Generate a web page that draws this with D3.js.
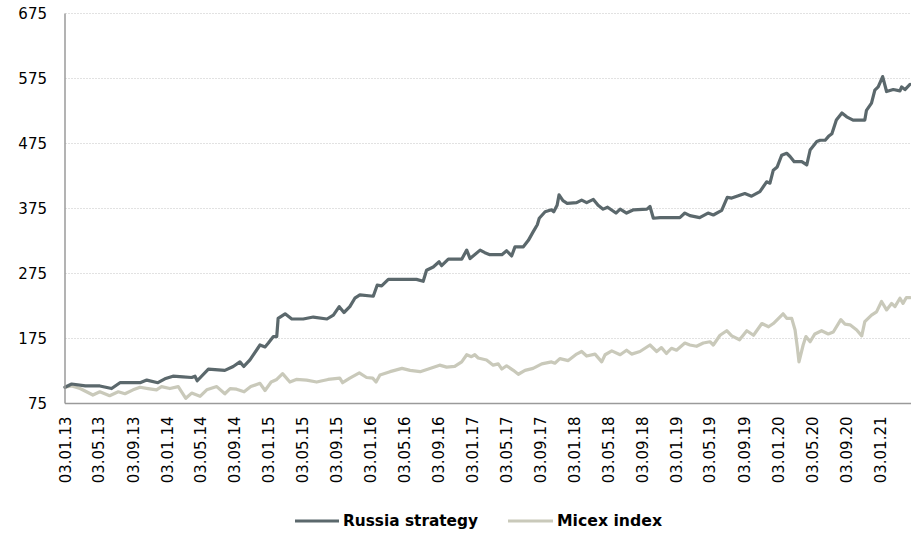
<!DOCTYPE html>
<html>
<head>
<meta charset="utf-8">
<script src="https://cdn.jsdelivr.net/npm/d3@7"></script>
<style>
  html, body { margin: 0; padding: 0; background: #fff; }
  svg { display: block; }
  text { font-family: "DejaVu Sans", Verdana, sans-serif; fill: #000; }
</style>
</head>
<body>
<svg id="chart" width="911" height="535"></svg>
<script>
// ---- data ----
const xTickLabels = ["03.01.13","03.05.13","03.09.13","03.01.14","03.05.14","03.09.14","03.01.15","03.05.15","03.09.15",
  "03.01.16","03.05.16","03.09.16","03.01.17","03.05.17","03.09.17","03.01.18","03.05.18","03.09.18",
  "03.01.19","03.05.19","03.09.19","03.01.20","03.05.20","03.09.20","03.01.21"];
const yTicks = [75, 175, 275, 375, 475, 575, 675];
const seriesNames = ["Russia strategy", "Micex index"];

const strategyDates = ["2013-01-03","2013-01-27","2013-03-17","2013-05-08","2013-06-19","2013-07-19","2013-09-29","2013-10-23",
  "2013-12-02","2013-12-27","2014-01-25","2014-03-02","2014-04-02","2014-04-14","2014-04-22","2014-06-01","2014-07-30",
  "2014-08-29","2014-09-22","2014-10-06","2014-10-28","2014-12-03","2014-12-21","2015-01-02","2015-01-20","2015-02-01",
  "2015-02-06","2015-03-03","2015-03-27","2015-05-07","2015-06-12","2015-07-31","2015-08-23","2015-09-13","2015-09-30",
  "2015-10-21","2015-11-08","2015-11-26","2016-01-13","2016-01-27","2016-02-12","2016-03-07","2016-06-16","2016-07-10",
  "2016-07-22","2016-08-15","2016-09-05","2016-09-14","2016-10-08","2016-11-25","2016-12-13","2016-12-25","2017-01-30",
  "2017-02-16","2017-03-06","2017-04-18","2017-05-05","2017-05-23","2017-06-04","2017-07-04","2017-07-22","2017-08-08",
  "2017-08-23","2017-08-30","2017-09-20","2017-10-13","2017-10-21","2017-11-02","2017-11-09","2017-11-23","2017-12-08",
  "2018-01-11","2018-01-29","2018-02-16","2018-03-12","2018-03-29","2018-04-16","2018-05-02","2018-06-01","2018-06-16",
  "2018-07-09","2018-08-03","2018-09-20","2018-10-01","2018-10-13","2018-11-06","2019-01-16","2019-02-03","2019-02-21",
  "2019-03-28","2019-04-27","2019-05-16","2019-06-15","2019-07-05","2019-07-21","2019-09-06","2019-09-30","2019-10-30",
  "2019-11-23","2019-12-05","2019-12-17","2019-12-31","2020-01-16","2020-02-03","2020-02-15","2020-03-01","2020-03-28",
  "2020-04-15","2020-04-27","2020-05-21","2020-06-02","2020-06-20","2020-07-02","2020-07-14","2020-07-30","2020-08-19",
  "2020-09-05","2020-09-28","2020-11-09","2020-11-15","2020-12-03","2020-12-15","2020-12-27","2021-01-12","2021-01-26",
  "2021-02-19","2021-03-15","2021-03-21","2021-04-02","2021-04-20"];
const strategyValues = [100,105,102,102,98,107,107,111,
  107,113,117,116,115,117,110,128,126,
  132,139,132,142,165,162,168,178,178,
  206,213,205,205,208,205,211,224,215,
  224,237,242,240,257,256,266,266,263,
  280,285,293,287,297,297,311,298,311,
  307,304,304,310,302,316,316,326,339,
  350,360,370,373,370,380,396,387,383,
  384,388,384,389,380,374,377,368,374,
  368,373,374,378,360,361,361,368,364,
  361,368,365,372,392,391,398,394,401,
  416,414,434,439,457,460,455,447,447,
  442,465,478,480,480,486,490,511,522,
  516,511,511,526,537,557,562,578,555,
  558,556,562,558,566];

const micexDates = ["2013-01-03","2013-01-27","2013-02-26","2013-03-21","2013-04-13","2013-05-08","2013-06-12","2013-07-13",
  "2013-08-06","2013-09-04","2013-09-29","2013-10-28","2013-11-27","2013-12-15","2014-01-14","2014-02-13","2014-02-25",
  "2014-03-12","2014-04-02","2014-05-02","2014-05-26","2014-07-01","2014-07-30","2014-08-18","2014-09-10","2014-10-07",
  "2014-10-31","2014-12-03","2014-12-21","2015-01-12","2015-02-01","2015-02-22","2015-03-20","2015-04-12","2015-05-19",
  "2015-06-24","2015-08-04","2015-09-15","2015-09-25","2015-10-21","2015-11-24","2015-12-20","2016-01-11","2016-01-23",
  "2016-02-06","2016-03-13","2016-04-25","2016-05-24","2016-06-29","2016-08-03","2016-09-07","2016-10-02","2016-10-31",
  "2016-11-25","2016-12-13","2016-12-30","2017-01-11","2017-01-23","2017-02-22","2017-03-18","2017-04-05","2017-04-18",
  "2017-05-05","2017-05-29","2017-06-16","2017-07-10","2017-08-08","2017-09-08","2017-10-13","2017-10-25","2017-11-12",
  "2017-12-12","2018-01-11","2018-01-29","2018-02-16","2018-03-18","2018-04-11","2018-04-23","2018-05-17","2018-06-16",
  "2018-07-09","2018-07-27","2018-08-26","2018-10-01","2018-10-25","2018-11-11","2018-11-29","2018-12-17","2019-01-04",
  "2019-02-03","2019-02-21","2019-03-17","2019-04-10","2019-05-04","2019-05-16","2019-06-09","2019-07-03","2019-07-21",
  "2019-08-18","2019-09-13","2019-10-07","2019-11-06","2019-11-30","2019-12-17","2020-01-21","2020-02-03","2020-02-21",
  "2020-03-04","2020-03-12","2020-03-18","2020-04-02","2020-04-12","2020-04-27","2020-05-14","2020-06-07","2020-07-01",
  "2020-07-19","2020-08-15","2020-08-30","2020-09-17","2020-10-11","2020-10-29","2020-11-09","2020-12-03","2020-12-21",
  "2021-01-08","2021-01-26","2021-02-13","2021-02-25","2021-03-15","2021-03-26","2021-04-07","2021-04-20"];
const micexValues = [100,102,98,93,88,93,87,93,
  90,96,100,98,96,101,98,101,93,
  83,91,86,96,101,90,98,97,93,
  101,106,95,108,112,121,108,112,111,
  108,112,114,107,114,122,115,114,108,
  119,124,129,126,124,129,134,131,132,
  139,150,147,150,145,142,134,136,128,
  133,126,120,126,129,136,139,137,144,
  141,151,155,148,151,139,150,156,150,
  157,151,155,165,155,161,152,160,157,
  168,165,163,168,170,165,180,187,179,
  173,187,180,198,193,198,213,206,206,
  188,162,139,165,178,170,182,187,182,
  185,204,197,196,188,179,201,211,216,
  232,219,229,224,237,229,238,238];

// ---- chart ----
const svg = d3.select("#chart");
const parse = d3.timeParse("%Y-%m-%d");
const parseTick = d3.timeParse("%d.%m.%y");

const strategy = strategyDates.map((d, i) => ({ date: parse(d), value: strategyValues[i] }));
const micex = micexDates.map((d, i) => ({ date: parse(d), value: micexValues[i] }));

const mLeft = 65, mRight = 910, mTop = 13.5, mBottom = 403.5;

const x = d3.scaleTime()
  .domain([parse("2013-01-03"), parse("2021-04-20")])
  .range([mLeft, mRight]);
const y = d3.scaleLinear().domain([75, 675]).range([mBottom, mTop]);

// gridlines
svg.append("g")
  .selectAll("line")
  .data(yTicks.filter(v => v !== 75))
  .join("line")
  .attr("x1", mLeft).attr("x2", 911)
  .attr("y1", d => y(d)).attr("y2", d => y(d))
  .attr("stroke", "#e2e2e2")
  .attr("stroke-width", 1)
  .attr("stroke-dasharray", "2,1");

// y axis
const yAxis = d3.axisLeft(y).tickValues(yTicks).tickSize(0).tickPadding(0);
const gy = svg.append("g").attr("transform", `translate(${mLeft},0)`).call(yAxis);
gy.select(".domain").remove();
gy.selectAll("text")
  .attr("x", -18)
  .attr("dy", "0.35em")
  .style("font-size", "15px")
  .style("font-family", "'DejaVu Sans', Verdana, sans-serif")
  .attr("fill", "#000");

// x axis
const xAxis = d3.axisBottom(x)
  .tickValues(xTickLabels.map(parseTick))
  .tickFormat(d3.timeFormat("%d.%m.%y"))
  .tickSize(0);
const gx = svg.append("g").attr("transform", `translate(0,${mBottom})`).call(xAxis);
gx.select(".domain").remove();
gx.selectAll("text")
  .attr("transform", "rotate(-90)")
  .attr("x", -13)
  .attr("y", 0)
  .attr("dy", "0.35em")
  .attr("text-anchor", "end")
  .style("font-size", "15px")
  .style("font-family", "'DejaVu Sans', Verdana, sans-serif")
  .attr("fill", "#000");

// lines
const line = d3.line().x(d => x(d.date)).y(d => y(d.value));
const colors = ["#5b686c", "#c9c9ba"];

svg.append("path").datum(micex)
  .attr("d", line).attr("fill", "none")
  .attr("stroke", colors[1]).attr("stroke-width", 3.2)
  .attr("stroke-linejoin", "round").attr("stroke-linecap", "round");

svg.append("path").datum(strategy)
  .attr("d", line).attr("fill", "none")
  .attr("stroke", colors[0]).attr("stroke-width", 3.2)
  .attr("stroke-linejoin", "round").attr("stroke-linecap", "round");

// axis lines
svg.append("line").attr("x1", mLeft).attr("x2", mLeft).attr("y1", mTop).attr("y2", mBottom)
  .attr("stroke", "#9a9a9a").attr("stroke-width", 1.5);
svg.append("line").attr("x1", mLeft).attr("x2", 911).attr("y1", mBottom).attr("y2", mBottom)
  .attr("stroke", "#9a9a9a").attr("stroke-width", 1.5);

// legend
const legend = [
  { name: seriesNames[0], color: colors[0], x1: 295, x2: 339, tx: 343, tw: 135 },
  { name: seriesNames[1], color: colors[1], x1: 508, x2: 553, tx: 557, tw: 105 }
];
const lg = svg.append("g");
legend.forEach(l => {
  lg.append("line").attr("x1", l.x1).attr("x2", l.x2).attr("y1", 521).attr("y2", 521)
    .attr("stroke", l.color).attr("stroke-width", 3.2);
  lg.append("text").attr("x", l.tx).attr("y", 521).attr("dy", "0.35em")
    .attr("textLength", l.tw).attr("lengthAdjust", "spacingAndGlyphs")
    .style("font-size", "15px").style("font-weight", "bold")
    .text(l.name);
});
</script>
</body>
</html>
